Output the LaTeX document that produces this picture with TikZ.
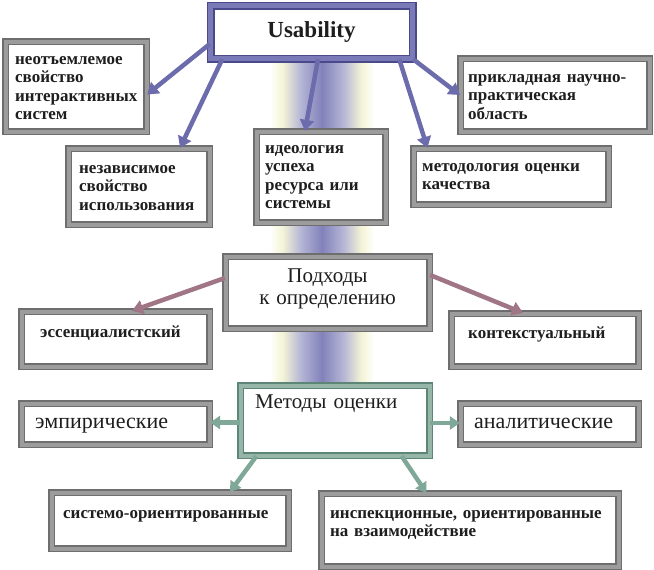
\documentclass[tikz,border=0pt]{standalone}
\usepackage{fontspec}
\setmainfont{Liberation Serif}
\usetikzlibrary{arrows.meta}
\definecolor{gdark}{HTML}{6E6E6E}
\definecolor{glight}{HTML}{9C9C9C}
\definecolor{udark}{HTML}{4A4A8A}
\definecolor{ulight}{HTML}{7A7AB8}
\definecolor{mdark}{HTML}{5E8676}
\definecolor{mlight}{HTML}{95B6A8}
\definecolor{ucol}{HTML}{6C6CAC}
\definecolor{pcol}{HTML}{A07585}
\definecolor{mcol}{HTML}{80A898}
\definecolor{bandpur}{HTML}{8282BA}
\definecolor{bandyel}{HTML}{F4F4D6}
\definecolor{txtc}{HTML}{1E1E1E}
\pgfdeclarehorizontalshading{band}{100bp}{color(0bp)=(white);color(25bp)=(white);color(31bp)=(bandyel);color(40bp)=(bandpur!60!white);color(50bp)=(bandpur);color(60bp)=(bandpur!60!white);color(69bp)=(bandyel);color(75bp)=(white);color(100bp)=(white)}
\begin{document}
\begin{tikzpicture}[x=1pt,y=-1pt,
gbox/.style={draw=gdark,double=glight,double distance=4pt,line width=1.2pt,fill=white,inner sep=0pt},
ubox/.style={draw=udark,double=ulight,double distance=5pt,line width=1.5pt,fill=white,inner sep=0pt,text=txtc},
mbox/.style={draw=mdark,double=mlight,double distance=4pt,line width=1.3pt,fill=white,inner sep=0pt},
uarr/.style={draw=ucol,line width=4.5pt,-{Triangle[length=11pt,width=14pt]}},
parr/.style={draw=pcol,line width=4.5pt,-{Triangle[length=11pt,width=14pt]}},
marr/.style={draw=mcol,line width=4.5pt,-{Triangle[length=10pt,width=13pt]}},
stxt/.style={anchor=base west,inner sep=0pt,align=left,text width=300pt,text=txtc,font=\bfseries\fontsize{17}{18.5}\selectfont},
rtxt/.style={anchor=base west,inner sep=0pt,align=left,text width=300pt,text=txtc,font=\fontsize{21}{22}\selectfont}]
\useasboundingbox(0,0)rectangle(654,570);
\shade[shading=band](270,60)rectangle(374,385);
\node[ubox,minimum width=202pt,minimum height=53pt,font=\bfseries\fontsize{23}{26}\selectfont](us)at(311.5,32){Usability};
\node[gbox,minimum width=141pt,minimum height=90pt](sv1)at(76,86.5){};
\node[gbox,minimum width=141pt,minimum height=76pt](sv2)at(139,186.5){};
\node[gbox,minimum width=129pt,minimum height=91pt](sv3)at(321,177){};
\node[gbox,minimum width=189pt,minimum height=73pt](sv4)at(555,95){};
\node[gbox,minimum width=195pt,minimum height=56pt](sv5)at(511,176.5){};
\node[gbox,minimum width=204pt,minimum height=72pt](pd)at(327.5,292.5){};
\node[gbox,minimum width=188pt,minimum height=55pt](es)at(115.5,339){};
\node[gbox,minimum width=187pt,minimum height=53pt](kt)at(545,340){};
\node[mbox,minimum width=189pt,minimum height=70pt](mo)at(335,420.5){};
\node[gbox,minimum width=188pt,minimum height=41pt](em)at(115.5,424){};
\node[gbox,minimum width=178pt,minimum height=41pt](an)at(549.5,424){};
\node[gbox,minimum width=237pt,minimum height=56pt](so)at(170,520.5){};
\node[gbox,minimum width=297pt,minimum height=73pt](io)at(470,530){};
\draw[uarr]([shift={(0,12)}]us.west)--([shift={(0,8)}]sv1.east);
\draw[uarr]([shift={(12.5,0)}]us.south west)--([shift={(41,0)}]sv2.north);
\draw[uarr]([shift={(6.5,0)}]us.south)--([shift={(-16,0)}]sv3.north);
\draw[uarr]([shift={(-14,0)}]us.south east)--([shift={(14.5,0)}]sv5.north west);
\draw[uarr](us.south east)--(sv4.west);
\draw[parr]([shift={(0,-14.5)}]pd.west)--([shift={(16.5,0)}]es.north);
\draw[parr]([shift={(0,-17.5)}]pd.east)--([shift={(-22,0)}]kt.north);
\draw[marr]([shift={(0,2)}]mo.west)--([shift={(0,-1.5)}]em.east);
\draw[marr]([shift={(0,2.5)}]mo.east)--([shift={(0,-1)}]an.west);
\draw[marr]([shift={(16.5,0)}]mo.south west)--([shift={(60,0)}]so.north);
\draw[marr]([shift={(-28.5,0)}]mo.south east)--([shift={(105.5,0)}]io.north west);
\node[stxt](t1)at(15,64){неотъемлемое\\свойство\\интерактивных\\систем};
\node[stxt](t2)at(79,173){независимое\\свойство\\использования};
\node[stxt](t3)at(265,153){идеология\\успеха\\ресурса или\\системы};
\node[stxt](t4)at(468,82){прикладная научно-\\практическая\\область};
\node[stxt](t5)at(422,171){методология оценки\\качества};
\node[rtxt,anchor=base,align=center,text width=200pt](pdt)at(327.5,282){Подходы\\к определению};
\node[stxt](est)at(40,337){эссенциалистский};
\node[stxt](ktt)at(468,338){контекстуальный};
\node[rtxt](mot)at(255,408){Методы оценки};
\node[rtxt,font=\fontsize{22}{22}\selectfont](emt)at(35,428){эмпирические};
\node[rtxt,font=\fontsize{22}{22}\selectfont](ant)at(474,428){аналитические};
\node[stxt](sot)at(63,518){системо-ориентированные};
\node[stxt](iot)at(330,518){инспекционные, ориентированные\\на взаимодействие};
\end{tikzpicture}
\end{document}
